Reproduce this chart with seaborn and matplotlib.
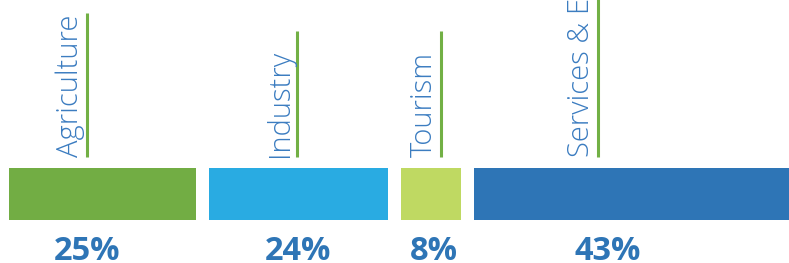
import matplotlib
matplotlib.use('Agg')
import matplotlib.pyplot as plt
import seaborn as sns

# data
sectors = ['Agriculture', 'Industry', 'Tourism', 'Services & Energy']
shares = [25, 24, 8, 43]
colors = ['#72ad44', '#29abe2', '#bfd962', '#2e75b6']

# layout (in percent units from segment start / pixel rows)
gap = 1.74
line_off = [10.4, 11.8, 5.3, 16.6]
line_top = [13, 31, 31, -5]
pct_off = [10.4, 11.9, 4.4, 17.8]

sns.set_theme(style='white')
plt.rcParams['font.family'] = ['Open Sans', 'DejaVu Sans']

fig = plt.figure(figsize=(7.89, 2.63), dpi=100)
ax = fig.add_axes([0, 0, 1, 1])

left = 0
starts = []
for v in shares:
    starts.append(left)
    left += v + gap

ax.barh([194] * 4, shares, left=starts, height=52, color=colors, linewidth=0)

for i, name in enumerate(sectors):
    lx = starts[i] + line_off[i]
    ax.plot([lx, lx], [line_top[i], 157], color='#72b045', lw=2.2, solid_capstyle='butt')
    ax.text(lx - 1.2, 157, name, rotation=90, rotation_mode='anchor',
            ha='left', va='baseline', fontsize=21, fontweight='light', color='#3b7cc0')
    ax.text(starts[i] + pct_off[i], 259.5, f'{shares[i]}%', ha='center', va='baseline',
            fontsize=23.5, fontweight='bold', color='#2e75b6')

ax.set_xlim(-1.2, 104.3)
ax.set_ylim(263, 0)
ax.axis('off')

fig.savefig('out.png', dpi=100)
